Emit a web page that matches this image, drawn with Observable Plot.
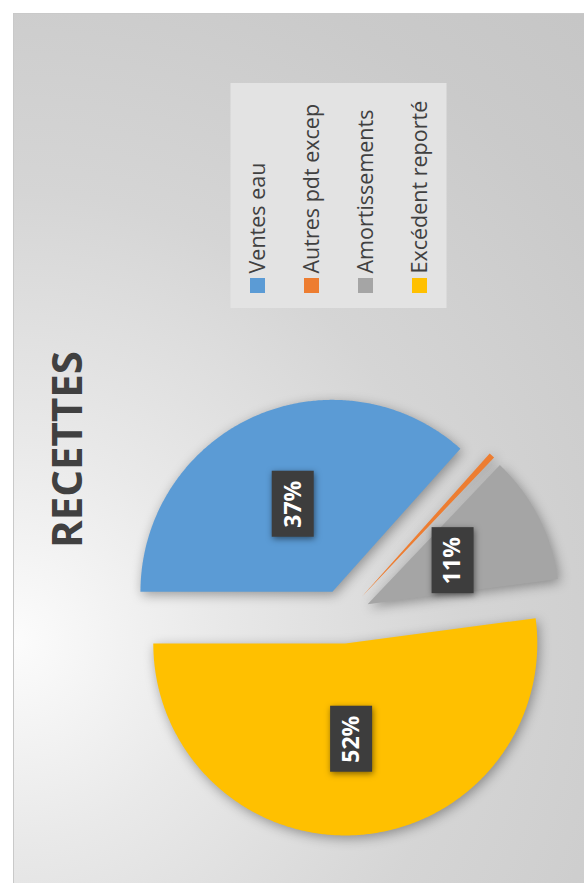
<!DOCTYPE html>
<html><head><meta charset="utf-8">
<script src="https://cdn.jsdelivr.net/npm/d3@7"></script>
<script src="https://cdn.jsdelivr.net/npm/@observablehq/plot@0.6"></script>
<style>
html,body{margin:0;padding:0;background:#fff;width:584px;height:883px;overflow:hidden;}
#panel{position:absolute;left:13px;top:13px;width:600px;height:900px;border-left:1px solid #c9c9c9;border-top:1px solid #c9c9c9;
  background:radial-gradient(circle at 0px 627px,#fcfcfc 0px,#e9e9e9 200px,#d5d5d5 450px,#cacaca 700px,#c3c3c3 950px);}
#chart{position:absolute;left:0;top:0;}
#chart svg{background:transparent;overflow:visible;}
</style></head><body><div id="panel"></div><div id="chart"></div>
<script>
const categories = ["Ventes eau", "Autres pdt excep", "Amortissements", "Excédent reporté"];
const values = [36.6, 0.5, 10.8, 52.1];
const colors = ["#5B9BD5", "#ED7D31", "#A5A5A5", "#FFC000"];
const title = "RECETTES";

// layout (pixels)
const W = 584, H = 883;
const cx = 343, cy = 616, R = 192, explode = 27;
const legendX0 = 257.5, legendStep = 54, legendSqY = 285.5, legendTextY = 273;

const arcs = d3.pie().sort(null).startAngle(-Math.PI / 2).endAngle(1.5 * Math.PI)(values);
const slices = [], labels = [];
arcs.forEach((a, i) => {
  const mid = (a.startAngle + a.endAngle) / 2;
  const ox = cx + explode * Math.sin(mid), oy = cy - explode * Math.cos(mid);
  slices.push({cat: categories[i], x: ox, y: oy});
  const n = Math.max(3, Math.ceil((a.endAngle - a.startAngle) / (Math.PI / 360)));
  for (let j = 0; j <= n; j++) {
    const t = a.startAngle + (a.endAngle - a.startAngle) * j / n;
    slices.push({cat: categories[i], x: ox + R * Math.sin(t), y: oy - R * Math.cos(t)});
  }
  if (a.value >= 1) labels.push({cat: categories[i], x: ox + R / 2 * Math.sin(mid), y: oy - R / 2 * Math.cos(mid), text: Math.round(a.value) + "%"});
});
const legend = categories.map((c, i) => ({cat: c, x: legendX0 + i * legendStep}));

const plot = Plot.plot({
  width: W, height: H, margin: 0,
  x: {domain: [0, W], range: [0, W], axis: null},
  y: {domain: [0, H], range: [0, H], axis: null},
  color: {domain: categories, range: colors},
  style: {background: "transparent", fontFamily: "Open Sans"},
  marks: [
    Plot.rect([0], {x1: legendX0 - 27, x2: legendX0 + 3 * legendStep + 27, y1: 83, y2: 308, fill: "#e3e3e3"}),
    Plot.rect(legend, {x1: d => d.x - 7.5, x2: d => d.x + 7.5, y1: legendSqY - 7.5, y2: legendSqY + 7.5, fill: "cat"}),
    Plot.text(legend, {x: d => d.x + 0.5, y: legendTextY, text: "cat", rotate: -90, textAnchor: "start", fontSize: 21.5, fill: "#404040"}),
    Plot.text([title], {x: 68, y: 449, text: d => d, rotate: -90, fontSize: 42, fontWeight: "bold", fill: "#404040"}),
    Plot.line(slices, {x: "x", y: "y", z: "cat", fill: "cat", stroke: "none", curve: "linear-closed"}),
    Plot.rect(labels, {x1: d => d.x - 21, x2: d => d.x + 21, y1: d => d.y - 33, y2: d => d.y + 33, fill: "#3d3d3d"}),
    Plot.text(labels, {x: "x", y: "y", text: "text", rotate: -90, fontSize: 23, fontWeight: "bold", fill: "white"})
  ]
});
document.getElementById("chart").appendChild(plot);
plot.querySelectorAll('g[aria-label="line"] path').forEach(p => p.style.filter = "drop-shadow(2px 3px 6px rgba(0,0,0,0.35))");
const rectGroups = plot.querySelectorAll('g[aria-label="rect"]');
if (rectGroups.length >= 3) rectGroups[2].querySelectorAll("rect").forEach(r => r.style.filter = "drop-shadow(1px 2px 3px rgba(0,0,0,0.5))");
</script></body></html>
